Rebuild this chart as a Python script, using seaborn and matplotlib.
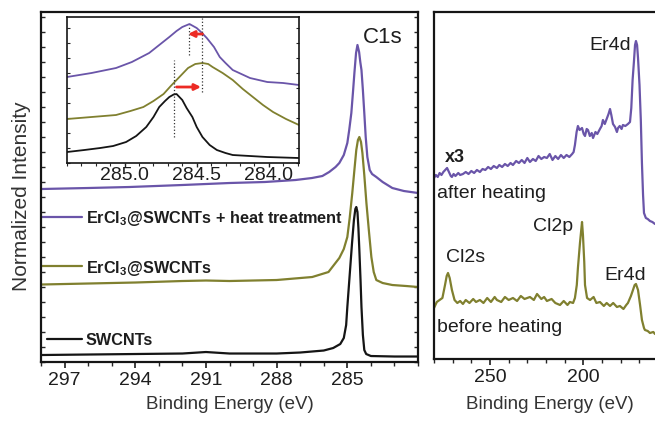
import matplotlib
matplotlib.use('Agg')
import matplotlib.pyplot as plt
from matplotlib.ticker import FixedLocator, MultipleLocator, NullFormatter, FormatStrFormatter
import pandas as pd
import seaborn as sns

# ---- C1s survey (left panel), intensities in arbitrary units ----
c1s_black_e = [298.0, 296.0, 294.0, 292.0, 291.0, 290.0, 288.0, 287.0, 286.0, 285.6, 285.3, 285.15,
               285.05, 285.0, 284.9, 284.8, 284.72, 284.66, 284.62, 284.57, 284.53, 284.49, 284.44,
               284.4, 284.34, 284.28, 284.2, 284.0, 283.0, 282.0]
c1s_black_i = [7, 7.5, 8, 8.5, 10, 8.5, 8.5, 9.5, 11.5, 14, 18, 24,
               37, 55, 87, 119, 142, 153, 155, 150, 134, 112, 82,
               55, 27, 12, 8, 6, 5.5, 5.5]

c1s_olive_e = [298.0, 296.0, 294.0, 292.0, 291.0, 290.0, 288.0, 286.49, 285.8, 285.34, 285.15, 285.0,
               284.9, 284.79, 284.7, 284.62, 284.55, 284.49, 284.42, 284.36, 284.28, 284.19, 284.08,
               283.98, 283.88, 283.77, 283.5, 283.09, 282.5, 282.0]
c1s_olive_i = [77.5, 78.5, 79.5, 81, 81.5, 81, 82, 85, 90, 104, 113, 125,
               144, 169, 192, 212, 222, 225, 220, 209, 187, 159, 130,
               105, 90, 82, 79, 77, 76, 75]

c1s_purple_e = [298.0, 296.0, 294.25, 292.0, 290.0, 288.5, 287.2, 286.5, 286.06, 285.77, 285.5, 285.34,
                285.15, 285.0, 284.92, 284.83, 284.76, 284.7, 284.63, 284.57, 284.5, 284.45, 284.4,
                284.34, 284.28, 284.22, 284.15, 284.05, 283.95, 283.77, 283.5, 283.09, 282.6, 282.0]
c1s_purple_i = [173, 174, 175, 177, 179, 180, 182, 184, 186, 190, 195, 199,
                207, 219, 232, 249, 270, 289, 309, 317, 310, 300, 292,
                272, 249, 225, 205, 192, 188, 185, 180, 174, 171, 169]

# ---- inset (zoom on the C1s maximum) ----
ins_purple_e = [285.40, 285.23, 285.06, 284.95, 284.83, 284.76, 284.69, 284.64, 284.60, 284.55, 284.50, 284.47,
                284.43, 284.38, 284.34, 284.30, 284.25, 284.19, 284.13, 284.07, 284.01, 283.90, 283.79]
ins_purple_i = [86, 90, 95, 101, 110, 118, 126, 132, 136, 139, 135, 131,
                125, 116, 106, 100, 93, 89, 85, 83, 81, 80, 78]

ins_olive_e = [285.40, 285.23, 285.06, 284.96, 284.87, 284.80, 284.73, 284.68, 284.64, 284.60, 284.56, 284.51,
               284.46, 284.42, 284.39, 284.32, 284.25, 284.18, 284.11, 284.04, 283.97, 283.88, 283.79]
ins_olive_i = [44, 46, 48, 52, 56, 62, 69, 77, 83, 89, 95, 99,
               100, 99, 96, 90, 83, 74, 66, 58, 51, 44, 38]

ins_black_e = [285.40, 285.28, 285.17, 285.08, 284.99, 284.92, 284.85, 284.80, 284.76, 284.72, 284.69, 284.66, 284.64,
               284.60, 284.57, 284.53, 284.50, 284.46, 284.41, 284.36, 284.30, 284.25, 284.13, 284.01, 283.90, 283.79]
ins_black_i = [11, 13, 15, 17, 21, 27, 36, 46, 56, 62, 66, 68.5, 69,
               63, 55, 46, 36, 26, 18, 13, 10, 8, 7, 6, 5.5, 5]

# peak markers (dotted) and shift arrows in the inset
mark_e = [284.655, 284.55, 284.46]
mark_lo = [26, 108, 71]
mark_hi = [103, 138, 145]
arrow_from = [284.64, 284.46]
arrow_to = [284.47, 284.56]
arrow_level = [76, 129]

# ---- Er4d / Cl region (right panel) ----
er_before_e = [280.0, 278.5, 277.0, 275.5, 274.1, 273.2, 272.5, 271.6, 270.4, 269.0, 267.5, 266.0,
               264.5, 263.0, 261.0, 259.0, 257.5, 255.4, 253.5, 251.5, 249.5, 247.5, 246.3, 244.0,
               242.0, 240.0, 237.7, 235.5, 233.5, 231.5, 228.6, 226.5, 224.8, 222.5, 221.0, 219.5,
               217.0, 215.0, 212.5, 210.5, 208.5, 207.2, 205.5, 204.5, 203.5, 202.9, 201.8, 200.7,
               200.2, 199.5, 199.1, 198.0, 196.4, 194.5, 193.0, 191.1, 189.0, 187.5, 185.7, 184.0,
               182.0, 180.4, 178.5, 177.0, 176.1, 174.5, 173.4, 172.5, 171.8, 170.7, 169.6, 168.6,
               167.5, 167.0, 165.5, 164.3, 162.5, 161.6]
er_before_i = [51, 57, 59, 61, 74, 83, 86, 81, 69, 59, 56, 58,
               55, 59, 56, 60, 57, 59, 56, 61, 57, 62, 59, 57,
               62, 59, 61, 58, 63, 60, 62, 59, 65, 60, 62, 58,
               60, 56, 54, 58, 54, 57, 56, 61, 74, 91, 116, 137,
               124, 97, 74, 61, 59, 62, 56, 57, 53, 56, 53, 56,
               52, 53, 50, 54, 56, 63, 69, 74, 75, 69, 54, 39,
               31, 29, 28, 26, 27, 25]

er_after_e = [280.0, 279.0, 278.0, 277.0, 276.0, 275.0, 274.0, 273.0, 272.0, 271.0, 270.4, 269.5,
              268.5, 267.0, 266.0, 264.5, 263.0, 261.5, 260.0, 258.5, 257.0, 255.4, 254.0, 252.5,
              251.0, 249.5, 248.0, 246.3, 245.0, 243.5, 242.0, 240.5, 239.0, 237.7, 236.0, 234.5,
              233.0, 231.5, 230.0, 228.6, 227.0, 225.5, 224.0, 222.5, 221.0, 219.5, 218.0, 216.5,
              215.0, 213.5, 212.0, 210.5, 209.0, 207.5, 206.0, 205.2, 204.5, 203.6, 202.9, 202.0,
              200.7, 199.8, 199.1, 198.2, 197.5, 196.5, 195.5, 194.8, 193.5, 192.5, 191.1, 190.2,
              189.5, 188.5, 187.3, 186.5, 185.7, 185.0, 184.1, 183.0, 182.0, 181.4, 180.5, 179.5,
              178.8, 177.5, 176.1, 175.0, 174.3, 173.6, 172.9, 172.3, 171.8, 171.2, 170.7, 169.9,
              169.2, 168.6, 168.0, 167.5, 166.5, 165.5, 164.3, 163.0, 161.6]
er_after_i = [181, 184, 182, 186, 184, 187, 189, 191, 187, 183, 182, 185,
              183, 186, 184, 185, 187, 185, 188, 186, 189, 187, 190, 189,
              192, 190, 193, 191, 194, 192, 195, 193, 196, 194, 198, 196,
              199, 196, 201, 197, 200, 198, 203, 200, 202, 201, 205, 199,
              203, 200, 204, 201, 204, 202, 205, 207, 214, 227, 233, 229,
              231, 225, 223, 230, 229, 223, 226, 221, 227, 225, 230, 233,
              239, 235, 241, 245, 250, 244, 235, 232, 227, 231, 233, 230,
              234, 233, 235, 237, 251, 279, 297, 314, 318, 314, 301, 274,
              239, 196, 164, 146, 141, 140, 138, 137, 135]

PURPLE = '#6a55a9'
OLIVE = '#80802f'
BLACK = '#151515'
RED = '#ec2a24'
TXT = '#1e1e1e'

sns.set_style('ticks')
plt.rcParams['font.family'] = ['Liberation Sans', 'DejaVu Sans']
plt.rcParams['mathtext.fontset'] = 'custom'
plt.rcParams['mathtext.rm'] = 'Liberation Sans'
plt.rcParams['mathtext.bf'] = 'Liberation Sans:bold'
plt.rcParams['axes.edgecolor'] = BLACK

fig = plt.figure(figsize=(6.55, 4.21), dpi=100)

# ---------------- left panel ----------------
ax = fig.add_axes([0.0626, 0.1401, 0.5756, 0.8314])
for e, i, c in [(c1s_black_e, c1s_black_i, BLACK),
                (c1s_olive_e, c1s_olive_i, OLIVE),
                (c1s_purple_e, c1s_purple_i, PURPLE)]:
    sns.lineplot(x=e, y=i, ax=ax, color=c, lw=1.6, estimator=None, sort=False)
ax.set_xlim(298, 282)
ax.set_ylim(0, 350)
ax.xaxis.set_major_locator(FixedLocator([297, 294, 291, 288, 285]))
ax.xaxis.set_minor_locator(MultipleLocator(1))
ax.yaxis.set_major_locator(MultipleLocator(15))
ax.yaxis.set_major_formatter(NullFormatter())
ax.tick_params(axis='x', which='major', direction='out', length=4, width=1.2, labelsize=14, colors=TXT)
ax.tick_params(axis='x', which='minor', direction='out', length=3, width=1.0)
ax.tick_params(axis='y', which='major', direction='in', left=True, right=True, length=3, width=1.0)
for s in ax.spines.values():
    s.set_linewidth(1.6)
ax.set_xlabel('Binding Energy (eV)', fontsize=13.5, color='#333333')
ax.xaxis.set_label_coords(0.5, -0.097)
ax.set_ylabel('Normalized Intensity', fontsize=15, color='#333333')
ax.yaxis.set_label_coords(-0.027, 0.474)
ax.text(0.854, 0.912, 'C1s', transform=ax.transAxes, fontsize=16, color=TXT, ha='left', va='baseline')

# legend keys
legend_items = [(r'ErCl$_\mathbf{3}$@SWCNTs + heat treatment', PURPLE, 0.003, 0.414, 0.398),
                (r'ErCl$_\mathbf{3}$@SWCNTs', OLIVE, 0.003, 0.274, 0.255),
                ('SWCNTs', BLACK, 0.016, 0.066, 0.049)]
for label, c, x0, yl, yt in legend_items:
    ax.plot([x0, 0.109], [yl, yl], color=c, lw=1.6, transform=ax.transAxes)
    ax.text(0.119, yt, label, transform=ax.transAxes, fontsize=11.7, fontweight='bold',
            color=TXT, ha='left', va='baseline')

# ---------------- inset ----------------
axin = fig.add_axes([0.1023, 0.6128, 0.3542, 0.3468])
axin.set_facecolor('white')
for e, i, c in [(ins_black_e, ins_black_i, BLACK),
                (ins_olive_e, ins_olive_i, OLIVE),
                (ins_purple_e, ins_purple_i, PURPLE)]:
    sns.lineplot(x=e, y=i, ax=axin, color=c, lw=1.3, estimator=None, sort=False)
axin.vlines(mark_e, mark_lo, mark_hi, colors='#333333', linestyles=':', lw=0.9)
for x0, x1, y in zip(arrow_from, arrow_to, arrow_level):
    axin.annotate('', xy=(x1, y), xytext=(x0, y),
                  arrowprops=dict(arrowstyle='-|>', color=RED, lw=2.0, mutation_scale=9,
                                  shrinkA=0, shrinkB=0))
axin.set_xlim(285.4, 283.79)
axin.set_ylim(0, 146)
axin.xaxis.set_major_locator(FixedLocator([285.0, 284.5, 284.0]))
axin.xaxis.set_major_formatter(FormatStrFormatter('%.1f'))
axin.xaxis.set_minor_locator(MultipleLocator(0.1))
axin.yaxis.set_major_locator(MultipleLocator(15))
axin.yaxis.set_major_formatter(NullFormatter())
axin.tick_params(axis='x', which='major', direction='out', length=3, width=1.0, labelsize=14, pad=0, colors=TXT)
axin.tick_params(axis='x', which='minor', direction='out', length=2.5, width=0.8)
axin.tick_params(axis='y', which='major', direction='in', left=True, right=True, length=2.5, width=0.8)
for s in axin.spines.values():
    s.set_linewidth(1.2)
axin.set_xlabel('')
axin.set_ylabel('')

# ---------------- right panel ----------------
ax2 = fig.add_axes([0.6626, 0.1473, 0.3374, 0.8242])
sns.lineplot(x=er_before_e, y=er_before_i, ax=ax2, color=OLIVE, lw=1.6, estimator=None, sort=False)
sns.lineplot(x=er_after_e, y=er_after_i, ax=ax2, color=PURPLE, lw=1.6, estimator=None, sort=False)
ax2.set_xlim(280, 161.6)
ax2.set_ylim(0, 347)
ax2.xaxis.set_major_locator(MultipleLocator(50))
ax2.xaxis.set_minor_locator(MultipleLocator(10))
ax2.set_yticks([])
ax2.tick_params(axis='x', which='major', direction='out', length=4, width=1.2, labelsize=14, colors=TXT)
ax2.tick_params(axis='x', which='minor', direction='out', length=3, width=1.0)
ax2.spines['right'].set_visible(False)
for s in ax2.spines.values():
    s.set_linewidth(1.6)
ax2.set_xlabel('Binding Energy (eV)', fontsize=13.5, color='#333333')
ax2.xaxis.set_label_coords(0.525, -0.107)
ax2.set_ylabel('')

ax2.text(185.7, 309, 'Er4d', fontsize=14, color=TXT, ha='center', va='baseline')
ax2.text(268.7, 197, 'x3', fontsize=13, fontweight='bold', color=TXT, ha='center', va='baseline')
ax2.text(278.4, 161, 'after heating', fontsize=14, color=TXT, ha='left', va='baseline')
ax2.text(216.3, 128, 'Cl2p', fontsize=14, color=TXT, ha='center', va='baseline')
ax2.text(262.9, 97, 'Cl2s', fontsize=14, color=TXT, ha='center', va='baseline')
ax2.text(177.7, 79, 'Er4d', fontsize=14, color=TXT, ha='center', va='baseline')
ax2.text(278.4, 27, 'before heating', fontsize=14, color=TXT, ha='left', va='baseline')

fig.savefig('out.png', dpi=100)
